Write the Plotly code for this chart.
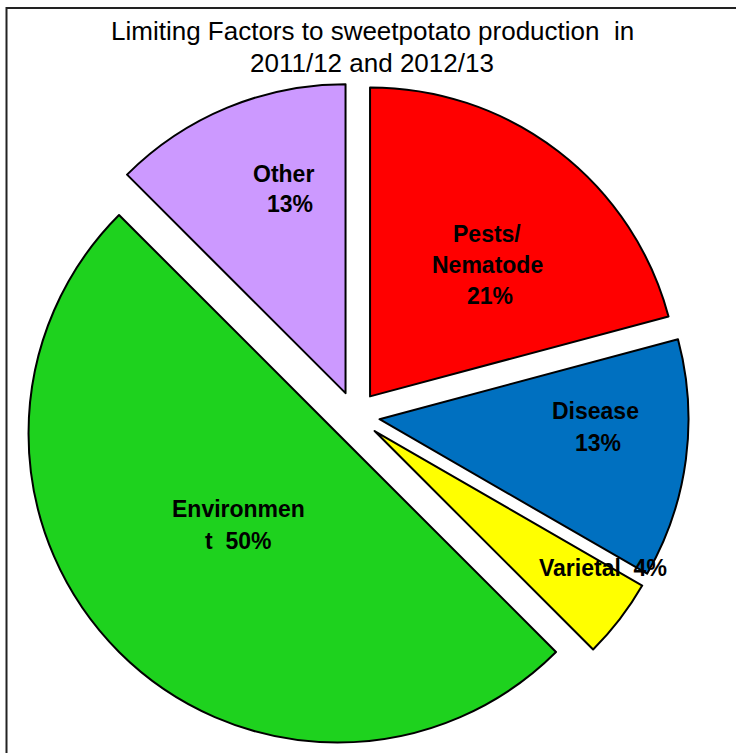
import plotly.graph_objects as go

# ---- data ----
categories = ["Pests/ Nematode", "Disease", "Varietal", "Environment", "Other"]
values = [5, 3, 1, 12, 3]
colors = ["#FF0000", "#0070C0", "#FFFF00", "#1ED21E", "#CC99FF"]
title_lines = ["Limiting Factors to sweetpotato production  in", "2011/12 and 2012/13"]

W, H = 736, 753
total = sum(values)
pcts = [f"{round(v / total * 100 + 1e-9):.0f}%" for v in values]

# label text lines as wrapped in the original chart
label_lines = [
    ["Pests/", "Nematode", pcts[0]],
    ["Disease", pcts[1]],
    ["Varietal  " + pcts[2]],
    ["Environmen", "t  " + pcts[3]],
    ["Other", pcts[4]],
]

# ---- layout helpers (pixel geometry) ----
cx, cy, r, pull = 355, 416, 309, 0.08
side = 2 * r * (1 + pull)
dom_x = [(cx - side / 2) / W, (cx + side / 2) / W]
dom_y = [1 - (cy + side / 2) / H, 1 - (cy - side / 2) / H]

fig = go.Figure(go.Pie(
    labels=categories,
    values=values,
    sort=False,
    direction="clockwise",
    rotation=0,
    pull=[pull] * len(values),
    marker=dict(colors=colors, line=dict(color="black", width=2)),
    textinfo="none",
    hoverinfo="label+percent",
    showlegend=False,
    domain=dict(x=dom_x, y=dom_y),
))

annotations = []
# label block centres (pixels) and per-line x nudges
label_pos = [(488, 265), (596, 427), (603, 568), (238, 525), (286, 189)]
line_x_nudge = [[-1, -1, 2], [-1, 2], [0], [0, 0], [-3, 4]]
pitch = 31
lab_font = dict(family="Liberation Sans, Arial, sans-serif", size=23, color="black", weight="bold")
for lines, (px, py), nud in zip(label_lines, label_pos, line_x_nudge):
    n = len(lines)
    for i, (t, dx) in enumerate(zip(lines, nud)):
        yy = py + (i - (n - 1) / 2) * pitch
        annotations.append(dict(
            text=f"<b>{t}</b>", x=(px + dx) / W, y=1 - yy / H,
            xref="paper", yref="paper", xanchor="center", yanchor="middle",
            showarrow=False, font=lab_font,
        ))

title_font = dict(family="Liberation Sans, Arial, sans-serif", size=26, color="black")
for i, t in enumerate(title_lines):
    annotations.append(dict(
        text=t, x=372 / W, y=1 - (31 + 32 * i) / H,
        xref="paper", yref="paper", xanchor="center", yanchor="middle",
        showarrow=False, font=title_font,
    ))

fig.update_layout(
    width=W, height=H,
    margin=dict(l=0, r=0, t=0, b=0),
    paper_bgcolor="white",
    plot_bgcolor="white",
    annotations=annotations,
    shapes=[dict(type="rect", xref="paper", yref="paper",
                 x0=6.5 / W, x1=1.02, y0=-0.02, y1=1 - 8 / H,
                 line=dict(color="#222222", width=2), fillcolor="rgba(0,0,0,0)",
                 layer="below")],
)

fig.write_html("out.html", config={"displayModeBar": False},
               post_script="document.body.style.margin='0';document.body.style.overflow='hidden';")
